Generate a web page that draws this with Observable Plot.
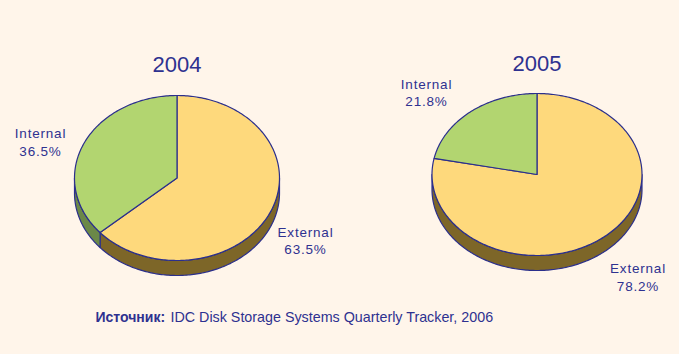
<!DOCTYPE html>
<html>
<head>
<meta charset="utf-8">
<script src="https://cdn.jsdelivr.net/npm/d3@7"></script>
<script src="https://cdn.jsdelivr.net/npm/@observablehq/plot@0.6"></script>
<style>
  html, body { margin: 0; padding: 0; background: #fff5ea; }
  #chart svg { display: block; }
</style>
</head>
<body>
<div id="chart"></div>
<script>
// ---- Data ----
const years = ["2004", "2005"];
const categories = ["External", "Internal"];
const shares2004 = [63.5, 36.5];
const shares2005 = [78.2, 21.8];
const sourceLabel = "Источник:";
const sourceText = "IDC Disk Storage Systems Quarterly Tracker, 2006";

// ---- Layout (pixels) ----
const W = 679, H = 354;
const pies = [
  {year: years[0], shares: shares2004, cx: 176.5, cy: 177.5, rx: 102.5, ry: 82.5, depth: 15,
   titleY: 64, labels: [{x: 305, y: 239.5}, {x: 40, y: 141}]},
  {year: years[1], shares: shares2005, cx: 536.5, cy: 174, rx: 105, ry: 81, depth: 15,
   titleY: 63, labels: [{x: 637.5, y: 276}, {x: 426, y: 91.5}]}
];
const navy = "#2b2f8c";
const textColor = "#2e3190";

// Build polygons for each slice (top faces and visible side walls)
const sides = [], tops = [], labelRows = [], titleRows = [];
for (const p of pies) {
  const total = d3.sum(p.shares);
  let a0 = 0;
  const pt = (deg, dy = 0) => {
    const r = deg * Math.PI / 180;
    return {x: p.cx + p.rx * Math.sin(r), y: p.cy - p.ry * Math.cos(r) + dy};
  };
  p.shares.forEach((v, i) => {
    const a1 = a0 + v / total * 360;
    const cat = categories[i];
    // top face
    const topId = `${p.year}-${cat}-top`;
    const poly = [{x: p.cx, y: p.cy}];
    const n = Math.max(2, Math.ceil(a1 - a0));
    for (let k = 0; k <= n; k++) poly.push(pt(a0 + (a1 - a0) * k / n));
    poly.push({x: p.cx, y: p.cy});
    poly.forEach(q => tops.push({...q, id: topId, key: `${cat} top`}));
    // side wall: visible front half (90..270 deg)
    const lo = Math.max(a0, 90), hi = Math.min(a1, 270);
    if (hi > lo) {
      const sideId = `${p.year}-${cat}-side`;
      const m = Math.max(2, Math.ceil(hi - lo));
      const ring = [];
      for (let k = 0; k <= m; k++) ring.push(pt(lo + (hi - lo) * k / m));
      for (let k = m; k >= 0; k--) ring.push(pt(lo + (hi - lo) * k / m, p.depth));
      ring.push(ring[0]);
      ring.forEach(q => sides.push({...q, id: sideId, key: `${cat} side`}));
    }
    labelRows.push({x: p.labels[i].x, y: p.labels[i].y, text: `${cat}\n${v.toFixed(1)}%`});
    a0 = a1;
  });
  titleRows.push({x: p.cx, y: p.titleY, text: p.year});
}

const chart = Plot.plot({
  width: W,
  height: H,
  margin: 0,
  x: {domain: [0, W], axis: null},
  y: {domain: [0, H], range: [0, H], axis: null},
  color: {
    domain: ["External top", "Internal top", "External side", "Internal side"],
    range: ["#fed97c", "#b2d570", "#7d6628", "#6b8848"]
  },
  style: {background: "#fff5ea", fontFamily: "'Liberation Sans', Arial, sans-serif"},
  marks: [
    Plot.line(sides, {x: "x", y: "y", z: "id", fill: "key", stroke: navy, strokeWidth: 1.2, curve: "linear"}),
    Plot.line(tops, {x: "x", y: "y", z: "id", fill: "key", stroke: navy, strokeWidth: 1.2, curve: "linear"}),
    Plot.text(titleRows, {x: "x", y: "y", text: "text", fill: textColor, fontSize: 22, lineAnchor: "middle"}),
    Plot.text(labelRows, {x: "x", y: "y", text: "text", fill: textColor, fontSize: 13.5, lineHeight: 1.28, lineAnchor: "middle"}),
    Plot.text([sourceLabel], {x: () => 95, y: () => 317, text: d => d, fill: textColor, fontSize: 14, fontWeight: "bold", textAnchor: "start", lineAnchor: "middle"}),
    Plot.text([sourceText], {x: () => 170, y: () => 317, text: d => d, fill: textColor, fontSize: 14.3, textAnchor: "start", lineAnchor: "middle"})
  ]
});

d3.select(chart).selectAll("g").filter(function () { return this.getAttribute("font-size") === "13.5"; })
  .attr("letter-spacing", "0.8px");

document.getElementById("chart").appendChild(chart);
</script>
</body>
</html>
